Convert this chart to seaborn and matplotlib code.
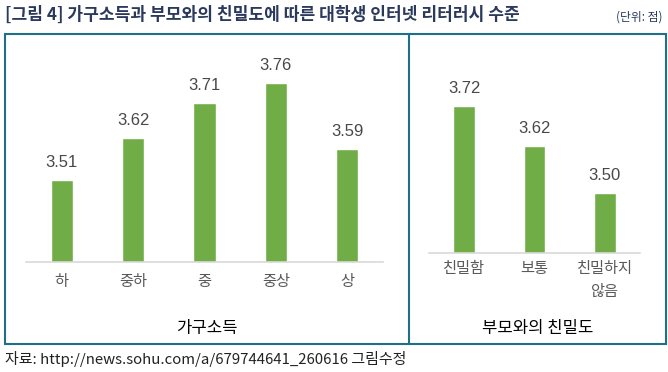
import matplotlib
matplotlib.use("Agg")
import pandas as pd
import seaborn as sns
from matplotlib import pyplot as plt
from matplotlib.patches import Rectangle
from matplotlib.lines import Line2D

# data
income_cats = ['하', '중하', '중', '중상', '상']
income_vals = [3.51, 3.62, 3.71, 3.76, 3.59]
bond_cats = ['친밀함', '보통', '친밀하지\n않음']
bond_vals = [3.72, 3.62, 3.50]

title_text = '[그림 4] 가구소득과 부모와의 친밀도에 따른 대학생 인터넷 리터러시 수준'
unit_text = '(단위: 점)'
source_text = '자료: http://news.sohu.com/a/679744641_260616 그림수정'

sns.set_theme(style='white')
plt.rcParams['font.family'] = ['Noto Sans CJK KR', 'DejaVu Sans']

GREEN = '#70ad47'
BOX = '#1f6f8b'
NAVY = '#2b3a5c'
GRAY = '#595959'

W, H = 668, 372
fig = plt.figure(figsize=(W / 100, H / 100), dpi=100)


def px_axes(x0, x1, y_top, y_base):
    return fig.add_axes([x0 / W, (H - y_base) / H, (x1 - x0) / W, (y_base - y_top) / H])


def draw_panel(ax, cats, vals, ymin, ymax):
    df = pd.DataFrame({'cat': cats, 'val': vals})
    sns.barplot(data=df, x='cat', y='val', color=GREEN, saturation=1,
                width=0.31, ax=ax)
    ax.set_xlim(-0.5, len(cats) - 0.5)
    ax.set_ylim(ymin, ymax)
    for p, v in zip(ax.patches, vals):
        ax.annotate(f'{v:.2f}', (p.get_x() + p.get_width() / 2, v),
                    xytext=(0, 12.5), textcoords='offset points',
                    ha='center', va='center', fontsize=12,
                    family=['Liberation Sans', 'DejaVu Sans'], color='#484848')
    for s in ['left', 'right', 'top']:
        ax.spines[s].set_visible(False)
    ax.spines['bottom'].set_color('#d9d9d9')
    ax.spines['bottom'].set_linewidth(1.2)
    ax.set_yticks([])
    ax.set_xlabel('')
    ax.set_ylabel('')
    ax.tick_params(axis='x', length=0, pad=8, labelsize=11, labelcolor=GRAY)
    ax.patch.set_alpha(0)


ax1 = px_axes(26, 383, 47, 262)
draw_panel(ax1, income_cats, income_vals, 3.3, 3.3 + 215 / 389)

ax2 = px_axes(429, 640, 54, 253)
draw_panel(ax2, bond_cats, bond_vals, 3.35, 3.35 + 199 / 398)
ax2.tick_params(axis='x', pad=5)
for lbl in ax2.get_xticklabels():
    lbl.set_linespacing(1.5)

# frame
fig.add_artist(Rectangle((5 / W, (H - 344) / H), 661 / W, 310 / H,
                         transform=fig.transFigure, fill=False,
                         edgecolor=BOX, linewidth=1.5))
fig.add_artist(Line2D([409 / W, 409 / W], [(H - 344) / H, (H - 34) / H],
                      transform=fig.transFigure, color=BOX, linewidth=1.5))

# texts
fig.text(5 / W, 1 - 15 / H, title_text, ha='left', va='center',
         fontsize=12.3, fontweight='bold', color=NAVY)
fig.text(662 / W, 1 - 17 / H, unit_text, ha='right', va='center',
         fontsize=8.5, color=NAVY)
fig.text(207 / W, 1 - 328 / H, '가구소득', ha='center', va='center',
         fontsize=12, color='black')
fig.text(538 / W, 1 - 328 / H, '부모와의 친밀도', ha='center', va='center',
         fontsize=12, color='black')
fig.text(5 / W, 1 - 359 / H, source_text, ha='left', va='center',
         fontsize=10.8, color='#222222')

fig.savefig('out.png', dpi=100)
